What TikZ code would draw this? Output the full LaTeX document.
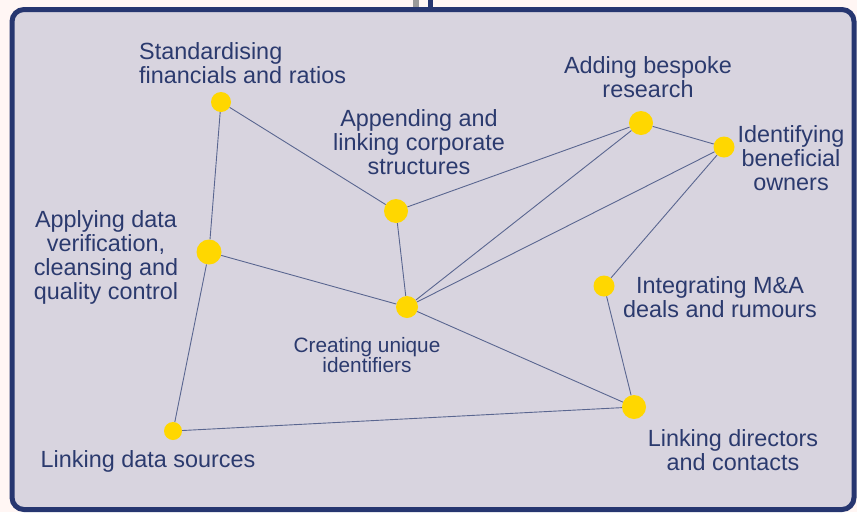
\documentclass[tikz,border=0pt]{standalone}
\usepackage{fontspec}
\setmainfont{Liberation Sans}
\definecolor{bgout}{HTML}{FFF6F4}
\definecolor{panel}{HTML}{D8D4DF}
\definecolor{navy}{HTML}{263670}
\definecolor{txt}{HTML}{2B3A6E}
\definecolor{edgec}{HTML}{5A6690}
\definecolor{dotc}{HTML}{FFD700}
\definecolor{stubgray}{HTML}{9A9A9A}
\begin{document}
\begin{tikzpicture}[x=1pt,y=-1pt,
  dot/.style={circle,fill=dotc,draw=none,inner sep=0pt,minimum size=#1},
  lbl/.style={text=txt,align=center,inner sep=0pt,font=\fontsize{23.4}{24}\selectfont},
  lblsmall/.style={text=txt,align=center,inner sep=0pt,font=\fontsize{20.8}{20.5}\selectfont},
  link/.style={draw=edgec,line width=0.9pt}]
\useasboundingbox (0,0) rectangle (857,512);
\fill[bgout] (0,0) rectangle (857,512);
\fill[stubgray] (413,0) rectangle (419,10);
\fill[navy] (428,0) rectangle (433,10);
\draw[navy,fill=panel,line width=5pt,rounded corners=12pt] (12,9.5) rectangle (854,509.5);
% dots
\node[dot=20pt] (A) at (221,102) {};
\node[dot=24pt] (B) at (396,211) {};
\node[dot=24pt] (C) at (641,123) {};
\node[dot=21pt] (D) at (724,147) {};
\node[dot=25pt] (E) at (209,252) {};
\node[dot=22pt] (F) at (407,307) {};
\node[dot=21pt] (G) at (604,286) {};
\node[dot=24pt] (H) at (634,407) {};
\node[dot=18pt] (I) at (173,431) {};
% links
\draw[link] (A) -- (B);
\draw[link] (A) -- (E);
\draw[link] (E) -- (I);
\draw[link] (E) -- (F);
\draw[link] (B) -- (F);
\draw[link] (B) -- (C);
\draw[link] (C) -- (D);
\draw[link] (C) -- (F);
\draw[link] (D) -- (F);
\draw[link] (D) -- (G);
\draw[link] (G) -- (H);
\draw[link] (F) -- (H);
\draw[link] (I) -- (H);
% labels
\node[lbl,align=left,anchor=west] (tA) at (139,63) {Standardising\\financials and ratios};
\node[lbl] (tC) at (648,77) {Adding bespoke\\research};
\node[lbl] (tB) at (419,142) {Appending and\\linking corporate\\structures};
\node[lbl] (tD) at (791,158) {Identifying\\beneficial\\owners};
\node[lbl] (tE) at (106,257) {Applying data\\verification,\\cleansing and\\quality control};
\node[lbl] (tG) at (720,297) {Integrating M\&A\\deals and rumours};
\node[lblsmall] (tF) at (367,355) {Creating unique\\identifiers};
\node[lbl] (tH) at (733,450) {Linking directors\\and contacts};
\node[lbl] (tI) at (148,461) {Linking data sources};
\end{tikzpicture}
\end{document}
